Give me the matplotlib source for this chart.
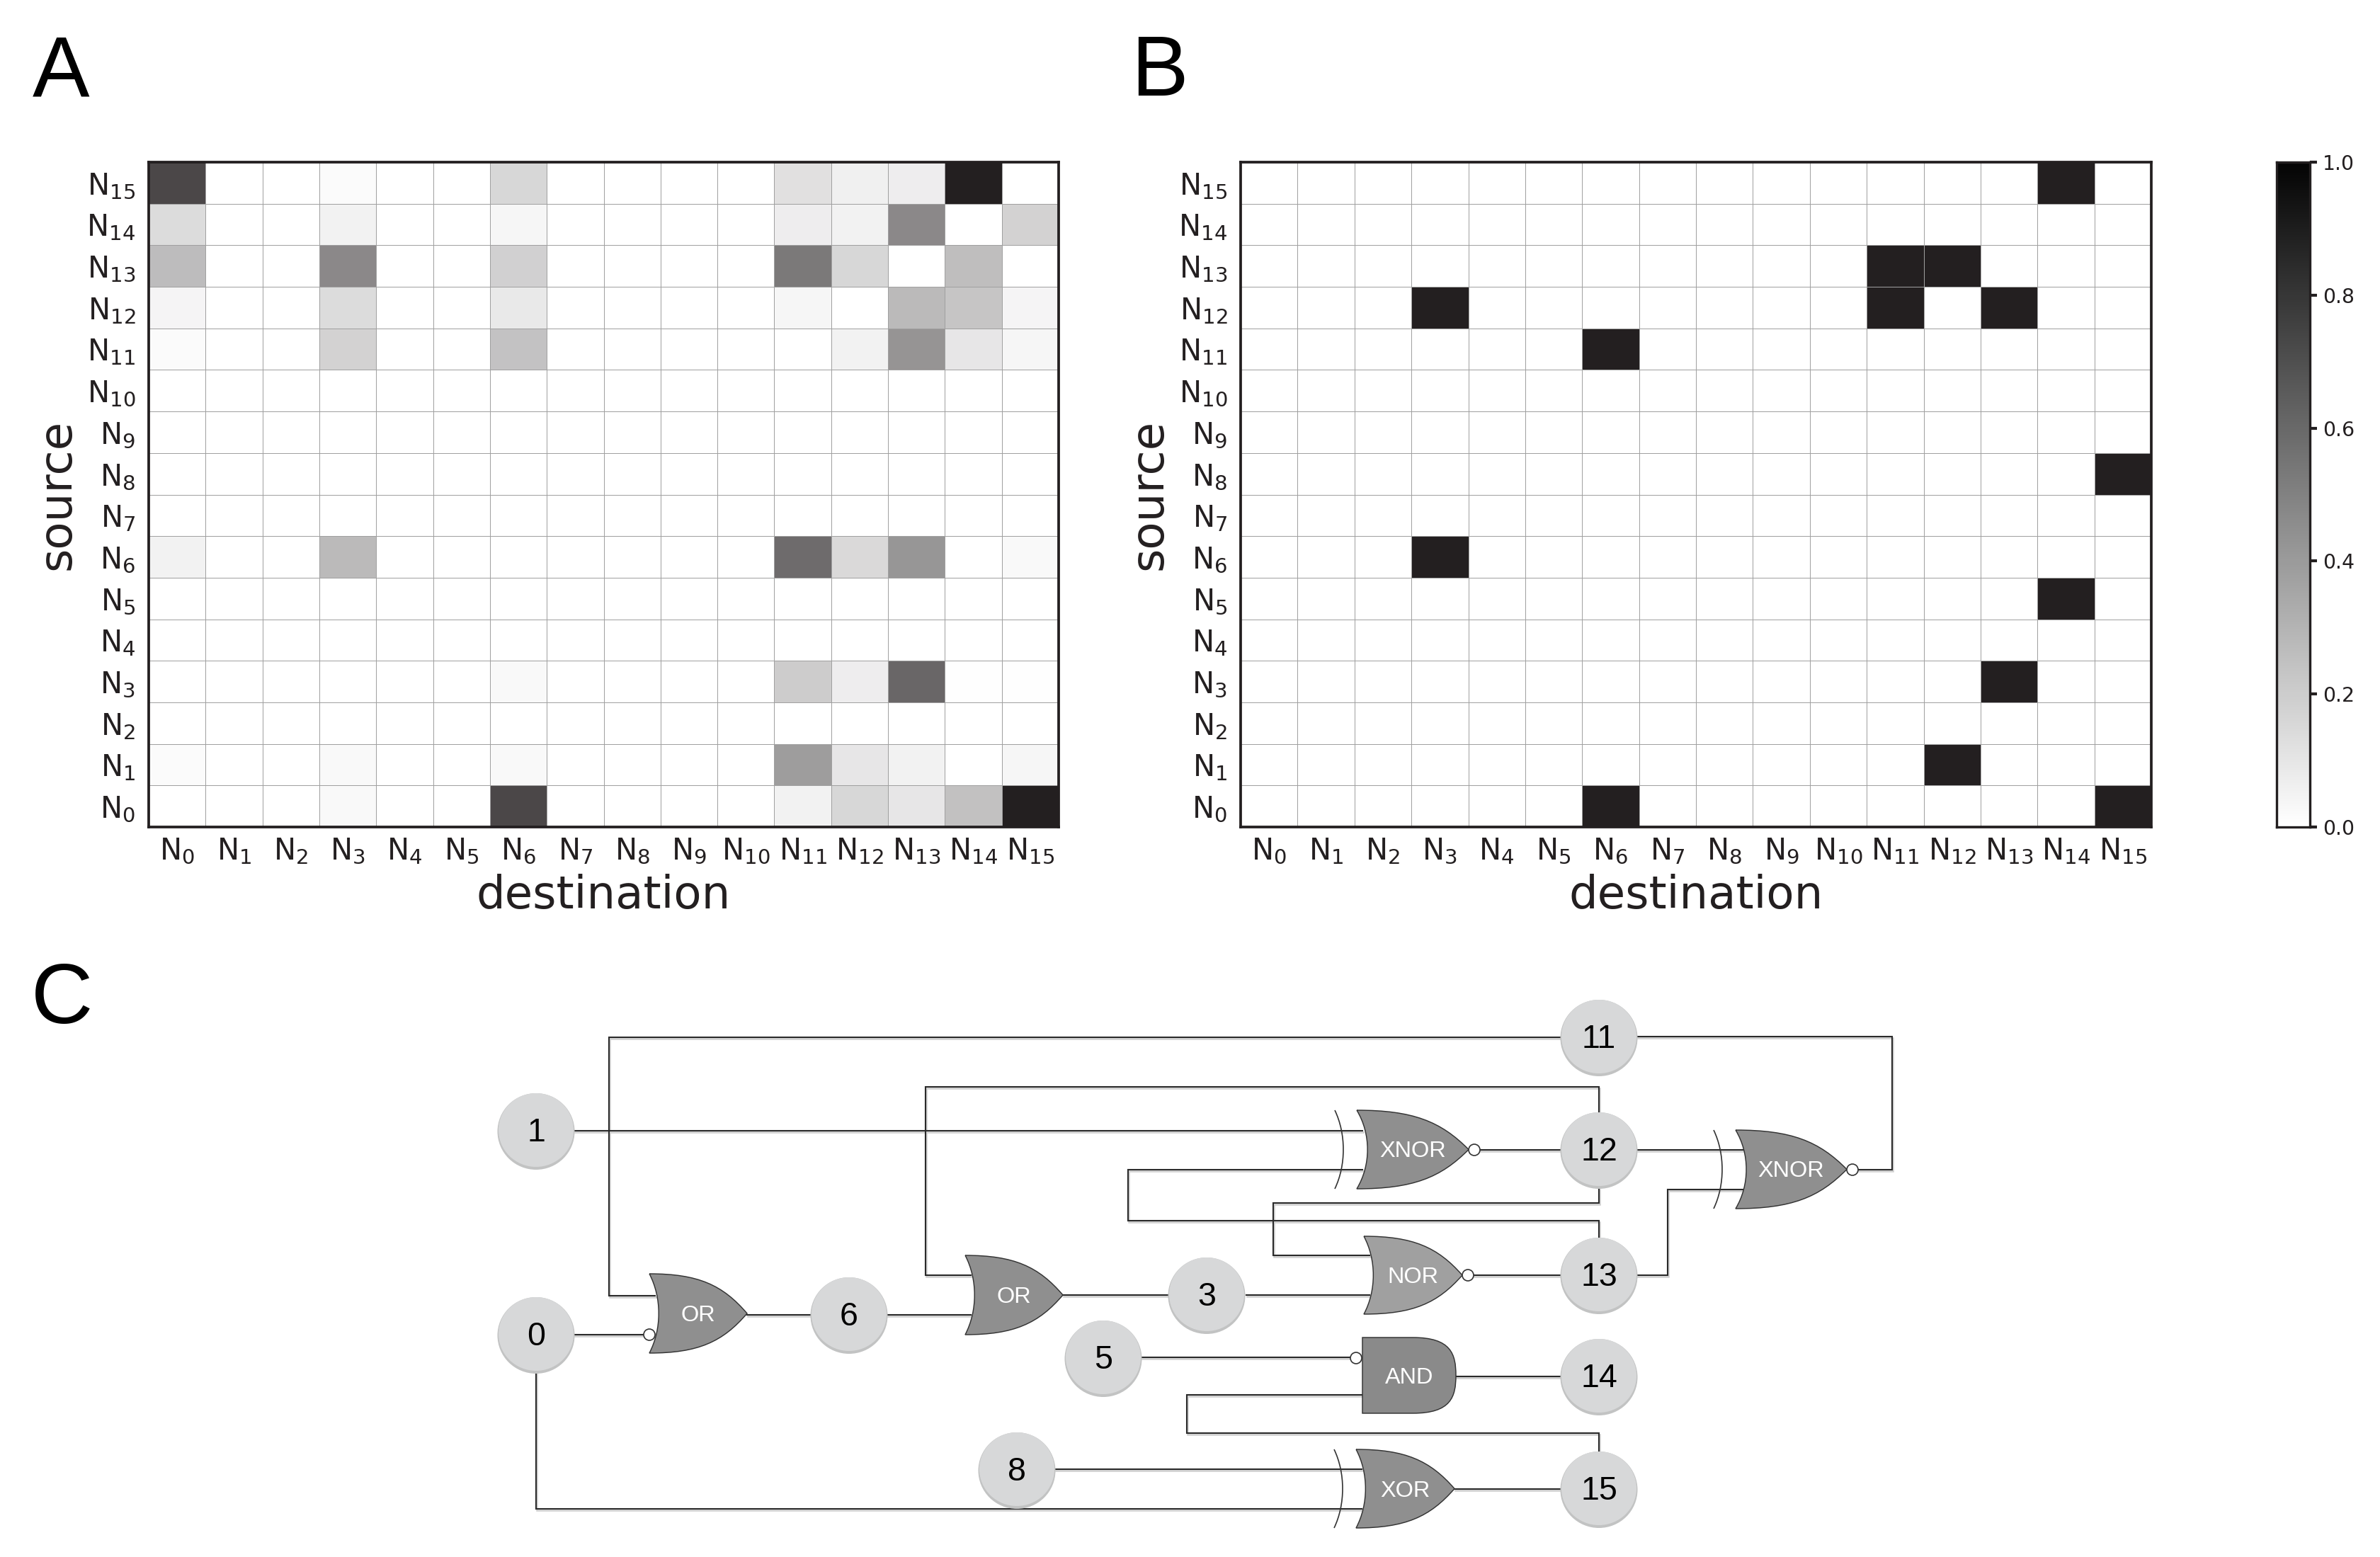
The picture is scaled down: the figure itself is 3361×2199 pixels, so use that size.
#!/usr/bin/env python3
import numpy as np
import matplotlib
matplotlib.use("Agg")
import matplotlib.pyplot as plt
from matplotlib.colors import LinearSegmentedColormap
from matplotlib.patches import Ellipse, PathPatch
from matplotlib.path import Path

W, H = 3361, 2199
DPI = 300

neuron_labels = ["N$_{%d}$" % i for i in range(16)]
colorbar_ticks = [0.0, 0.2, 0.4, 0.6, 0.8, 1.0]

# rows are sources N0..N15, columns destinations N0..N15
weights_a = np.array([
    [0, 0, 0, .03, 0, 0, .82, 0, 0, 0, 0, .06, .18, .11, .28, 1],
    [.02, 0, 0, .03, 0, 0, .03, 0, 0, 0, 0, .44, .11, .06, 0, .04],
    [0] * 16,
    [0, 0, 0, 0, 0, 0, .03, 0, 0, 0, 0, .23, .08, .68, .005, .005],
    [0] * 16,
    [0] * 16,
    [.06, 0, 0, .31, 0, 0, 0, 0, 0, 0, 0, .66, .17, .47, 0, .03],
    [0] * 16,
    [0] * 16,
    [0] * 16,
    [0] * 16,
    [.02, 0, 0, .2, 0, 0, .27, 0, 0, 0, 0, 0, .06, .48, .11, .04],
    [.05, 0, 0, .16, 0, 0, .1, 0, 0, 0, 0, .04, 0, .31, .26, .05],
    [.3, 0, 0, .53, 0, 0, .21, 0, 0, 0, 0, .6, .18, 0, .29, 0],
    [.16, 0, 0, .06, 0, 0, .04, 0, 0, 0, 0, .08, .06, .53, 0, .2],
    [.82, 0, 0, .02, 0, 0, .18, 0, 0, 0, 0, .14, .07, .08, 1, 0],
])

# (source, destination) pairs that are fully on in panel B
edges_b = [(0, 6), (0, 15), (1, 12), (3, 13), (5, 14), (6, 3), (8, 15),
           (11, 6), (12, 3), (12, 11), (12, 13), (13, 11), (13, 12), (15, 14)]

node_names = ["0", "1", "3", "5", "6", "8", "11", "12", "13", "14", "15"]
node_pos = [(757, 1885), (757, 1597), (1704, 1829), (1558, 1918), (1199, 1857), (1436, 2076),
            (2258, 1465), (2258, 1624), (2258, 1801), (2258, 1944), (2258, 2103)]

# name, kind, x0, x1, y0, y1, fill
gates = [
    ("OR", "or", 917, 1055, 1799, 1911, "#8f8f8f"),
    ("OR", "or", 1363, 1501, 1773, 1885, "#8f8f8f"),
    ("XNOR", "xor", 1916, 2074, 1568, 1679, "#8f8f8f"),
    ("NOR", "or", 1926, 2065, 1746, 1856, "#a0a0a0"),
    ("AND", "and", 1924, 2056, 1889, 1996, "#8a8a8a"),
    ("XOR", "xor", 1915, 2054, 2047, 2158, "#8f8f8f"),
    ("XNOR", "xor", 2451, 2608, 1596, 1707, "#8f8f8f"),
]
bubbles = [(917, 1885), (2082, 1624), (2073, 1801), (1915, 1918), (2616, 1652)]
wires = [
    [(2204, 1465), (860, 1465), (860, 1830), (925, 1830)],
    [(811, 1597), (1924, 1597)],
    [(2258, 1570), (2258, 1535), (1307, 1535), (1307, 1801), (1371, 1801)],
    [(2258, 1748), (2258, 1724), (1593, 1724), (1593, 1652), (1924, 1652)],
    [(2258, 1678), (2258, 1699), (1798, 1699), (1798, 1773), (1934, 1773)],
    [(1760, 1829), (1934, 1829)],
    [(811, 1885), (910, 1885)],
    [(1055, 1857), (1145, 1857)],
    [(1253, 1857), (1371, 1857)],
    [(1501, 1829), (1650, 1829)],
    [(1612, 1917), (1910, 1917)],
    [(2258, 2049), (2258, 2024), (1676, 2024), (1676, 1970), (1924, 1970)],
    [(2056, 1944), (2204, 1944)],
    [(1490, 2075), (1923, 2075)],
    [(757, 1938), (757, 2131), (1923, 2131)],
    [(2054, 2103), (2204, 2103)],
    [(2088, 1624), (2204, 1624)],
    [(2079, 1801), (2204, 1801)],
    [(2622, 1652), (2672, 1652), (2672, 1464), (2312, 1464)],
    [(2312, 1624), (2461, 1624)],
    [(2312, 1801), (2355, 1801), (2355, 1680), (2461, 1680)],
]

cell_cmap = LinearSegmentedColormap.from_list("cells", ["#ffffff", "#231f20"])
bar_cmap = LinearSegmentedColormap.from_list("bar", ["#ffffff", "#050505"])
INK = "#231f20"


def axes_px(fig, x0, x1, y0, y1):
    return fig.add_axes([x0 / W, 1 - y1 / H, (x1 - x0) / W, (y1 - y0) / H])


def draw_heatmap(ax, matrix):
    ax.pcolormesh(matrix, cmap=cell_cmap, vmin=0, vmax=1, edgecolors="#a0a0a0", linewidth=0.22)
    ax.set_xticks(np.arange(16) + 0.5, neuron_labels, fontsize=10, color=INK)
    ax.set_yticks(np.arange(16) + 0.5, neuron_labels, fontsize=10, color=INK)
    ax.tick_params(axis="x", length=0, pad=3.2)
    ax.tick_params(axis="y", length=0, pad=4.5)
    ax.set_xlabel("destination", fontsize=15.4, color=INK, labelpad=2.5)
    ax.set_ylabel("source", fontsize=15.4, color=INK, labelpad=2.5)
    for spine in ax.spines.values():
        spine.set_linewidth(0.9)
        spine.set_color(INK)


def gate_path(kind, x0, x1, y0, y1):
    w, h = x1 - x0, y1 - y0
    yc = (y0 + y1) / 2
    if kind == "and":
        xs = x0 + 0.54 * w
        verts = [(x0, y0), (xs, y0), (x1 - 0.05 * w, y0), (x1, yc - 0.28 * h), (x1, yc),
                 (x1, yc + 0.28 * h), (x1 - 0.05 * w, y1), (xs, y1), (x0, y1), (x0, y0)]
        codes = [Path.MOVETO, Path.LINETO, Path.CURVE4, Path.CURVE4, Path.CURVE4,
                 Path.CURVE4, Path.CURVE4, Path.CURVE4, Path.LINETO, Path.CLOSEPOLY]
        return Path(verts, codes)
    back = x0 + 0.128 * w
    verts = [(x0, y0),
             (x0 + 0.5 * w, y0), (x0 + 0.75 * w, y0 + 0.14 * h), (x1, yc),
             (x0 + 0.75 * w, y1 - 0.14 * h), (x0 + 0.5 * w, y1), (x0, y1),
             (back, y1 - 0.3 * h), (back, y0 + 0.3 * h), (x0, y0)]
    codes = [Path.MOVETO] + [Path.CURVE4] * 9
    return Path(verts, codes)


def draw_circuit(ax):
    for wire in wires:
        xs, ys = zip(*wire)
        # soft drop shadow under each wire
        ax.plot(np.array(xs) + 1, np.array(ys) + 2, color="#cfcfcf", lw=0.6,
                solid_joinstyle="miter", zorder=1)
        ax.plot(xs, ys, color="#2a2a2a", lw=0.5, solid_joinstyle="miter", zorder=1.5)

    for name, kind, x0, x1, y0, y1, fill in gates:
        ax.add_patch(PathPatch(gate_path(kind, x0, x1, y0, y1), facecolor=fill,
                               edgecolor="#333333", lw=0.35, zorder=2))
        if kind == "xor":
            # the extra input arc of the exclusive gates
            off = 31
            arc = Path([(x0 - off, y0), (x0 - off + 16, y0 + 0.3 * (y1 - y0)),
                        (x0 - off + 16, y1 - 0.3 * (y1 - y0)), (x0 - off, y1)],
                       [Path.MOVETO, Path.CURVE4, Path.CURVE4, Path.CURVE4])
            ax.add_patch(PathPatch(arc, facecolor="none", edgecolor="#333333", lw=0.4, zorder=2))
        cx = x0 + 0.5 * (x1 - x0)
        ax.text(cx, (y0 + y1) / 2 + 3, name, color="white", fontsize=7.8, family="Liberation Sans",
                ha="center", va="center", zorder=3)

    for x, y in bubbles:
        ax.add_patch(Ellipse((x, y), 16, 16, facecolor="white", edgecolor="#333333", lw=0.4, zorder=4))

    for name, (x, y) in zip(node_names, node_pos):
        ax.add_patch(Ellipse((x, y + 1), 109, 108, facecolor="#c2c3c3", edgecolor="none", zorder=4))
        ax.add_patch(Ellipse((x, y - 1), 106, 104, facecolor="#d7d8d9", edgecolor="none", zorder=5))
        ax.text(x, y + 3, name, color="black", fontsize=11.2, family="Liberation Sans",
                ha="center", va="center", zorder=6)


if __name__ == '__main__':
    fig = plt.figure(figsize=(W / DPI, H / DPI), dpi=DPI, facecolor="white")

    ax_a = axes_px(fig, 210, 1495, 229, 1168)
    draw_heatmap(ax_a, weights_a)

    weights_b = np.zeros((16, 16))
    for source, destination in edges_b:
        weights_b[source, destination] = 1
    ax_b = axes_px(fig, 1752, 3038, 229, 1168)
    draw_heatmap(ax_b, weights_b)

    ax_bar = axes_px(fig, 3215, 3262, 229, 1168)
    gradient = np.linspace(0, 1, 256).reshape(-1, 1)
    ax_bar.imshow(gradient, cmap=bar_cmap, origin="lower", aspect="auto", extent=[0, 1, 0, 1])
    ax_bar.set_xticks([])
    ax_bar.yaxis.tick_right()
    ax_bar.set_yticks(colorbar_ticks, ["%.1f" % t for t in colorbar_ticks], fontsize=6.8, color=INK)
    ax_bar.tick_params(length=2.5, width=1, pad=1.8, color=INK)
    for spine in ax_bar.spines.values():
        spine.set_linewidth(0.8)
        spine.set_color(INK)

    overlay = fig.add_axes([0, 0, 1, 1], zorder=-1)
    overlay.set_xlim(0, W)
    overlay.set_ylim(H, 0)
    overlay.axis("off")
    draw_circuit(overlay)

    for letter, x, y in [("A", 46, 135), ("B", 1597, 135), ("C", 44, 1445)]:
        fig.text(x / W, 1 - y / H, letter, fontsize=29, family="Liberation Sans", color="black",
                 ha="left", va="baseline")

    fig.savefig("out.png", dpi=DPI)
